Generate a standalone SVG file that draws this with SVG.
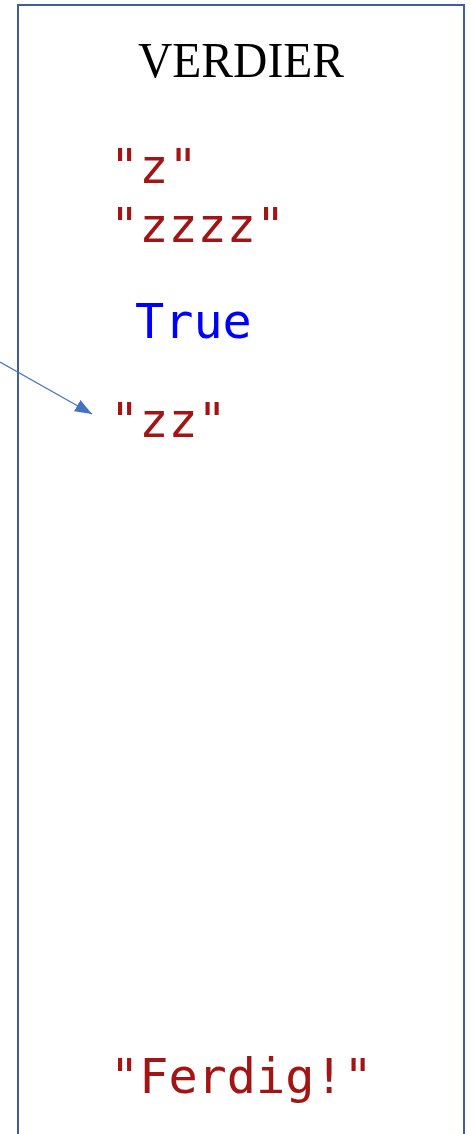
<svg xmlns="http://www.w3.org/2000/svg" width="474" height="1134" viewBox="0 0 474 1134">
  <style>
    .code { font-family: "DejaVu Sans Mono", "Liberation Mono", monospace; font-size: 48.5px; }
    .str { fill: #A31515; }
    .kw { fill: #0000FF; }
    .title { font-family: "Liberation Serif", "DejaVu Serif", serif; font-size: 50px; fill: #000; }
  </style>
  <defs>
    <marker id="arrow" markerWidth="17" markerHeight="13" refX="17" refY="6.5" orient="auto" markerUnits="userSpaceOnUse" viewBox="0 0 17 13">
      <path d="M0,0 L17,6.5 L0,13 Z" fill="#4472C4"/>
    </marker>
  </defs>
  <rect width="474" height="1134" fill="#FFFFFF"/>
  <g id="panel">
    <rect x="18" y="5" width="446" height="1140" fill="none" stroke="#3F5E9E" stroke-width="2"/>
    <text class="title" x="241" y="77" text-anchor="middle" textLength="206" lengthAdjust="spacingAndGlyphs">VERDIER</text>
  </g>
  <g id="value-z"><text class="code str" x="110" y="183">"z"</text></g>
  <g id="value-zzzz"><text class="code str" x="110" y="242">"zzzz"</text></g>
  <g id="value-true"><text class="code kw" x="135" y="338">True</text></g>
  <g id="value-zz"><text class="code str" x="110" y="437">"zz"</text></g>
  <g id="value-ferdig"><text class="code str" x="110" y="1093">"Ferdig!"</text></g>
  <g id="connectors">
    <line x1="0" y1="362" x2="92" y2="414" stroke="#4472C4" stroke-width="1.2" marker-end="url(#arrow)"/>
  </g>
</svg>
